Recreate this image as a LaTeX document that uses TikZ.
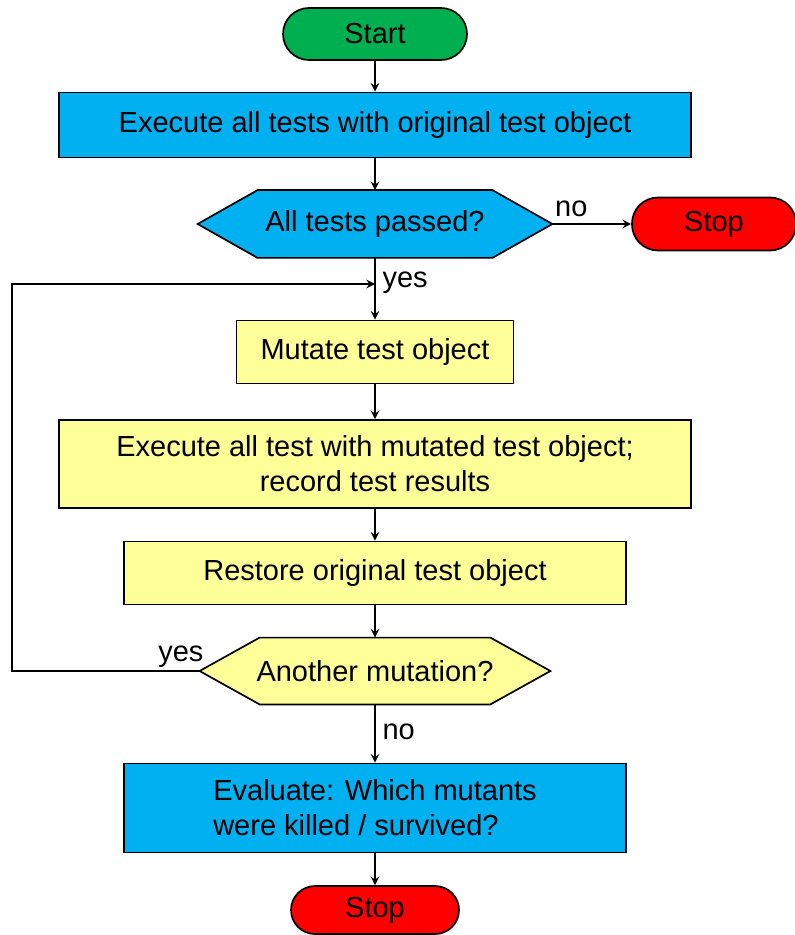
\documentclass[tikz,border=0pt]{standalone}
\usepackage{fontspec}
\setmainfont{Liberation Sans}
\usetikzlibrary{calc}
\usetikzlibrary{backgrounds}
\definecolor{startgreen}{HTML}{00B050}
\definecolor{stepcyan}{HTML}{00B0F0}
\definecolor{stopred}{HTML}{FF0000}
\definecolor{steppale}{HTML}{FFFF99}

\begin{document}
\begin{tikzpicture}[>=stealth, x=.5pt, y=-.5pt,
font=\fontsize{14.5}{17.5}\selectfont,
terminal/.style={draw, line width=.85pt, rounded corners=13pt, minimum height=26pt, inner sep=0pt},
process/.style={draw, line width=.85pt, inner sep=0pt, align=center},
question/.style={inner sep=0pt},
flow/.style={->, line width=.9pt}]

%%%%%% SETTINGS %%%%%%%%%%

\pgfmathtruncatemacro{\trunk}{375}
\useasboundingbox (0,0) rectangle (794,935);

%%%%%% BOXES %%%%%%%%%%

\node [terminal, fill=startgreen, minimum width=92pt] (start) at (\trunk,34) {Start};
\node [process, fill=stepcyan, minimum width=316pt, minimum height=32.5pt] (exec1) at (\trunk,125) {Execute all tests with original test object};
\node [question, minimum width=177pt, minimum height=33.5pt] (passed) at (\trunk,224) {All tests passed?};
\node [terminal, fill=stopred, minimum width=82pt, minimum height=26.5pt] (stopA) at (714,224) {Stop};

\node [process, fill=steppale, minimum width=138.5pt, minimum height=31.5pt] (mutate) at (\trunk,352) {Mutate test object};
\node [process, fill=steppale, minimum width=316pt, minimum height=44pt] (exec2) at (\trunk,464) {Execute all test with mutated test object;\\record test results};
\node [process, fill=steppale, minimum width=251pt, minimum height=31.5pt] (restore) at (\trunk,573) {Restore original test object};
\node [question, minimum width=175pt, minimum height=33pt] (another) at (\trunk,671) {Another mutation?};

\node [process, fill=stepcyan, minimum width=251pt, minimum height=44.5pt, align=left] (evaluate) at (\trunk,808) {Evaluate: Which mutants\\were killed / survived?};
\node [terminal, fill=stopred, minimum width=84pt, minimum height=24pt, rounded corners=12pt] (stopB) at (\trunk,910) {Stop};

% hexagons behind the questions
\begin{scope}[on background layer]
\foreach \n/\c in {passed/stepcyan, another/steppale}
  \draw[fill=\c, line width=.85pt] (\n.west) -- ($(\n.north west)+(60,0)$) -- ($(\n.north east)+(-60,0)$) -- (\n.east)
    -- ($(\n.south east)+(-60,0)$) -- ($(\n.south west)+(60,0)$) -- cycle;
\end{scope}

%%%%%% ARROWS %%%%%%%%%%

\draw[flow] (start) -- (exec1);
\draw[flow] (exec1) -- (passed);
\draw[flow] (passed) -- node[above, pos=.24] (noA) {no} (stopA);
\draw[flow] (passed) -- node[right, pos=.4] (yesA) {yes} (mutate);
\draw[flow] (mutate) -- (exec2);
\draw[flow] (exec2) -- (restore);
\draw[flow] (restore) -- (another);
\draw[flow] (another) -- node[right, pos=.47] (noB) {no} (evaluate);
\draw[flow] (evaluate) -- (stopB);

% back to the mutation step
\coordinate (back) at (12,671);
\coordinate (join) at (\trunk,284);
\draw[flow] (another.west) -- node[above, pos=.1, inner sep=1.5pt] (yesB) {yes} (back) |- (join);

\end{tikzpicture}
\end{document}
